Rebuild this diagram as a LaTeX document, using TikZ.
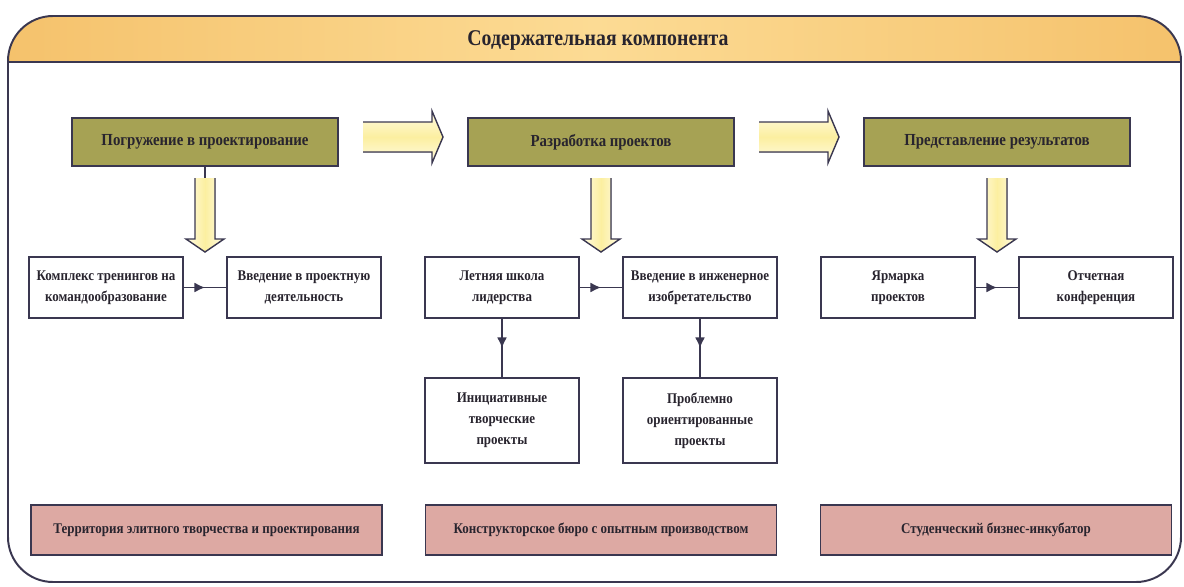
\documentclass[tikz,border=0pt]{standalone}
\usepackage{fontspec}
\setmainfont{Liberation Serif}[FakeStretch=0.88]
\usetikzlibrary{arrows.meta,decorations.markings}

\definecolor{framecol}{RGB}{58,55,80}
\definecolor{inkcol}{RGB}{40,36,46}
\definecolor{bandorange}{RGB}{245,194,108}
\definecolor{bandlight}{RGB}{252,219,148}
\definecolor{stagegreen}{RGB}{166,162,84}
\definecolor{baserose}{RGB}{221,169,163}
\definecolor{arrowyellow}{RGB}{252,239,160}
\definecolor{arrowpale}{RGB}{255,251,228}

\tikzset{
  stagebox/.style={draw=framecol, line width=1.1pt, fill=stagegreen, text=inkcol,
    minimum width=6.65cm, minimum height=1.2cm, font=\fontsize{12}{14}\selectfont\bfseries},
  itembox/.style={draw=framecol, line width=1pt, fill=white, text=inkcol, align=center,
    minimum width=3.85cm, minimum height=1.525cm, font=\fontsize{10.5}{15}\selectfont\bfseries},
  basebox/.style={draw=framecol, line width=1.1pt, fill=baserose, text=inkcol,
    minimum width=8.78cm, minimum height=1.25cm, font=\fontsize{10.5}{13}\selectfont\bfseries},
  link/.style={draw=framecol, line width=0.9pt},
  midarrow/.style={postaction={decorate}, decoration={markings,
    mark=at position 0.5 with {\arrow{Latex[length=7.5pt,width=7pt]}}}},
  blockline/.style={draw=framecol, line width=1pt, line join=miter},
}

\begin{document}
\begin{tikzpicture}[x=0.025cm, y=-0.025cm]
    \useasboundingbox (0,0) rectangle (1184,586);
    %%Frame and title
    \fill[left color=bandorange, right color=bandorange, middle color=bandlight]
    (8,62) [rounded corners=32] -- (8,16) -- (1181,16) [sharp corners] -- (1181,62) -- cycle;
    \draw[framecol, line width=1.4pt] (8,62) to (1181,62);
    \draw[framecol, line width=1.4pt, rounded corners=32] (8,16) rectangle (1181,582);
    \node[text=inkcol, font=\fontsize{16}{18}\selectfont\bfseries] (title) at (598,40) {Содержательная компонента};
    %%Stages
    \node[stagebox] (immersion) at (205,142) {Погружение в проектирование};
    \node[stagebox] (development) at (601,142) {Разработка проектов};
    \node[stagebox] (presentation) at (997,142) {Представление результатов};
    %%Horizontal block arrows
    \foreach \dx in {0,396}{
        \fill[top color=arrowpale, bottom color=arrowpale, middle color=arrowyellow]
        (363+\dx,122) -- (432+\dx,122) -- (432+\dx,111) -- (443+\dx,137)
        -- (432+\dx,163) -- (432+\dx,152) -- (363+\dx,152) -- cycle;
        \draw[blockline]
        (363+\dx,122) -- (432+\dx,122) -- (432+\dx,111) -- (443+\dx,137)
        -- (432+\dx,163) -- (432+\dx,152) -- (363+\dx,152);
    }
    %%Vertical block arrows
    \draw[link] (immersion.south) to (205,180);
    \foreach \cx in {205,601,997}{
        \fill[left color=arrowpale, right color=arrowpale, middle color=arrowyellow]
        (\cx-10,178) -- (\cx-10,239) -- (\cx-19,239) -- (\cx,252)
        -- (\cx+19,239) -- (\cx+10,239) -- (\cx+10,178) -- cycle;
        \draw[blockline]
        (\cx-10,178) -- (\cx-10,239) -- (\cx-19,239) -- (\cx,252)
        -- (\cx+19,239) -- (\cx+10,239) -- (\cx+10,178);
    }
    %%Activities
    \node[itembox] (teams) at (106,287.5) {Комплекс тренингов на\\командообразование};
    \node[itembox] (intro) at (304,287.5) {Введение в проектную\\деятельность};
    \node[itembox] (school) at (502,287.5) {Летняя школа\\лидерства};
    \node[itembox] (invent) at (700,287.5) {Введение в инженерное\\изобретательство};
    \node[itembox] (fair) at (898,287.5) {Ярмарка\\проектов};
    \node[itembox] (conf) at (1096,287.5) {Отчетная\\конференция};
    \node[itembox, minimum height=2.125cm] (creative) at (502,420.5) {Инициативные\\творческие\\проекты};
    \node[itembox, minimum height=2.125cm] (problem) at (700,420.5) {Проблемно\\ориентированные\\проекты};
    \draw[link, midarrow] (teams) to (intro);
    \draw[link, midarrow] (school) to (invent);
    \draw[link, midarrow] (fair) to (conf);
    \draw[link, midarrow] (school) to (creative);
    \draw[link, midarrow] (invent) to (problem);
    %%Bases
    \node[basebox] (territory) at (206.5,530) {Территория элитного творчества и проектирования};
    \node[basebox] (bureau) at (601,530) {Конструкторское бюро с опытным производством};
    \node[basebox] (incubator) at (996,530) {Студенческий бизнес-инкубатор};
\end{tikzpicture}
\end{document}
